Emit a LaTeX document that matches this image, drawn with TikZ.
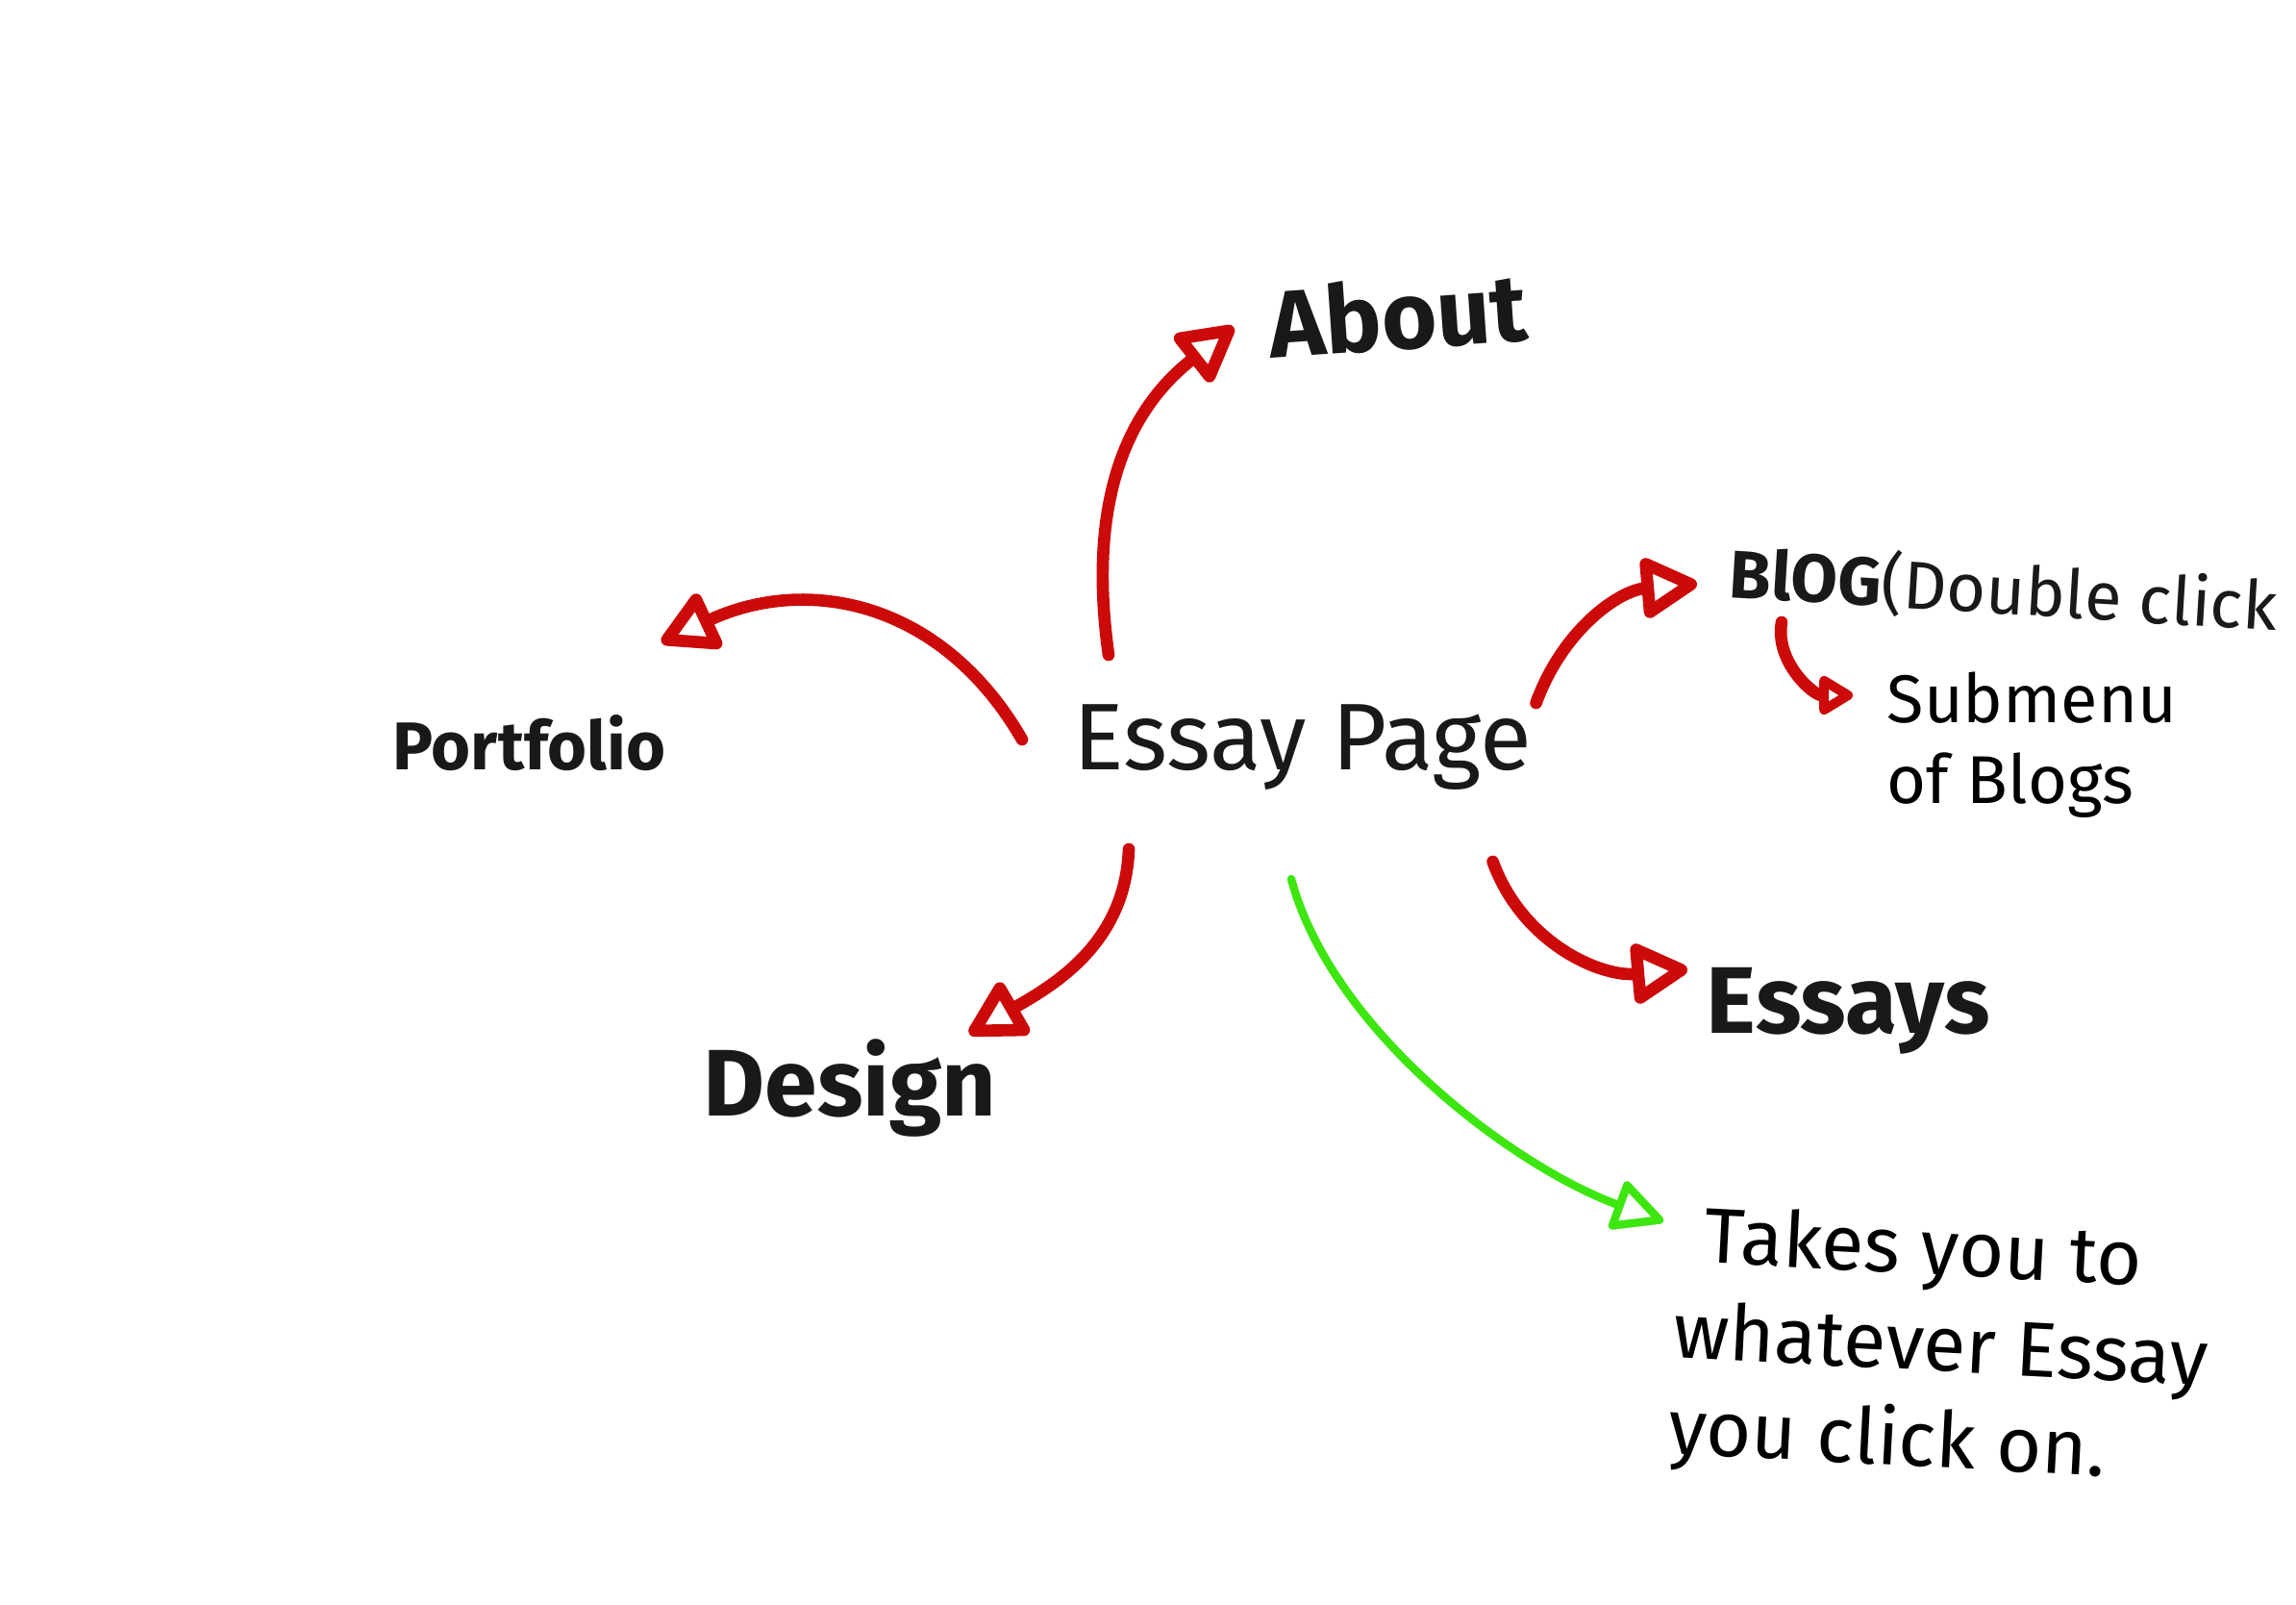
\documentclass[tikz,border=0pt]{standalone}
\usepackage{fontspec}
\setmainfont{Fira Sans}
\usetikzlibrary{arrows.meta}
\definecolor{penred}{HTML}{CC0A0A}
\definecolor{pengreen}{HTML}{3DE60F}
\tikzstyle{ink}=[anchor=base west, inner sep=0pt, text=black!90]
\tikzstyle{redpen}=[draw=penred, line width=3.6pt, line cap=round, line join=round,
  -{Triangle[open, length=6.5mm, width=6.8mm, round]}]
\tikzstyle{greenpen}=[draw=pengreen, line width=2.4pt, line cap=round, line join=round,
  -{Triangle[open, length=5.8mm, width=5.6mm, round]}]

\begin{document}
\begin{tikzpicture}[
    big/.style = {font=\fontsize{28}{32}\selectfont\bfseries},
    note/.style = {font=\fontsize{20}{24}\selectfont, align=left}]
  \useasboundingbox[fill=white] (0,0) rectangle (23.88,-16.68);

  \node[ink, font=\fontsize{28}{32}\selectfont] (essay) at (11.16,-8.00) {Essay Page};
  \node[ink, big, rotate=4] (about) at (13.22,-3.73) {About};
  \node[ink, font=\fontsize{20}{24}\selectfont\bfseries] (portfolio) at (4.08,-8.00) {Portfolio};
  \node[ink, big] (design) at (7.31,-11.60) {Design};
  \node[ink, big] (essays) at (17.74,-10.74) {Essays};
  \node[ink, rotate=-3.5, font=\fontsize{20}{24}\selectfont]
    (blog) at (17.97,-6.21) {\textbf{BlOG}(Double click};
  \node[note, anchor=north west, inner sep=0pt] (submenu) at (19.62,-6.98)
    {Submenu\\of Blogs};
  \node[note, anchor=north west, inner sep=0pt, rotate=-3,
    font=\fontsize{23}{28.5}\selectfont] (takes) at (17.47,-12.50)
    {\hspace{0.27cm}Takes you to\\whatever Essay\\you click on.};

  \draw[redpen] ([shift={(0.37,1.19)}]essay.base west)
    to[out=98, in=218, looseness=1.05] ([shift={(-0.39,0.33)}]about.base west);
  \draw[redpen] ([shift={(-0.53,0.31)}]essay.base west)
    to[out=120, in=25, looseness=1.1] ([shift={(2.80,1.32)}]portfolio.base west);
  \draw[redpen] ([shift={(0.58,-0.83)}]essay.base west)
    to[out=268, in=30] ([shift={(2.77,0.85)}]design.base west);
  \draw[redpen] ([shift={(-0.41,-0.96)}]essay.base east)
    to[out=290, in=185] ([shift={(-0.19,0.66)}]essays.base west);
  \draw[redpen] ([shift={(0.04,0.69)}]essay.base east)
    to[out=70, in=185] ([shift={(-0.32,0.14)}]blog.base west);
  \draw[redpen, -{Triangle[open, length=4mm, width=4.5mm, round]}]
    ([shift={(0.56,-0.26)}]blog.base west)
    to[out=260, in=180] ([shift={(-0.35,-0.25)}]submenu.north west);
  \draw[greenpen] ([shift={(2.27,-1.14)}]essay.base west)
    to[out=285, in=160, looseness=0.8] ([shift={(-0.17,-0.20)}]takes.north west);
\end{tikzpicture}
\end{document}
